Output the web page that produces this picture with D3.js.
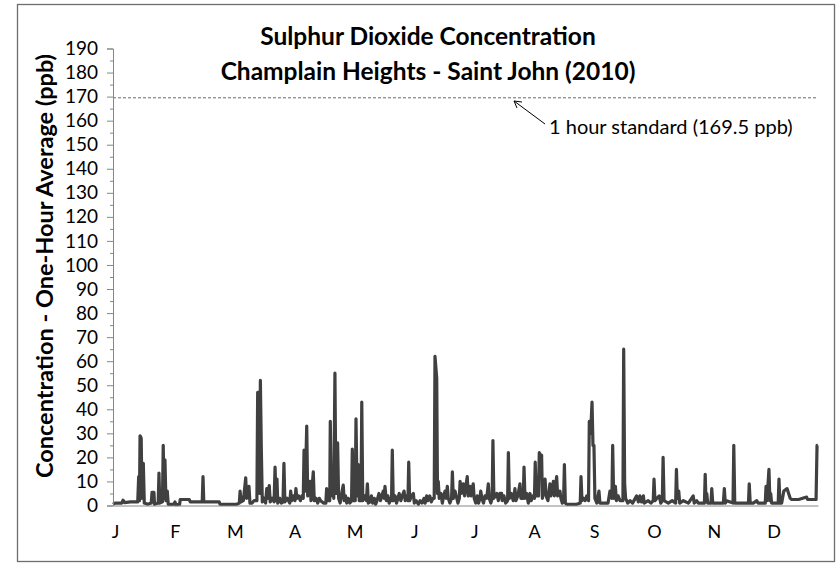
<!DOCTYPE html>
<html>
<head>
<meta charset="utf-8">
<script src="https://cdn.jsdelivr.net/npm/d3@7"></script>
<style>
  html, body { margin: 0; padding: 0; background: #ffffff; }
  svg { display: block; }
  text { font-family: Lato, "Open Sans", sans-serif; fill: #000; }
</style>
</head>
<body>
<svg id="chart" width="838" height="565"></svg>
<script>
// ---- Data ----
const titleLines = ["Sulphur Dioxide Concentration", "Champlain Heights - Saint John (2010)"];
const yAxisTitle = "Concentration - One-Hour Average (ppb)";
const monthLabels = ["J","F","M","A","M","J","J","A","S","O","N","D"];
const monthLabelDays = [0,31,62,93,124,155,186,217,248,279,310,341];
const yTickValues = [0,10,20,30,40,50,60,70,80,90,100,110,120,130,140,150,160,170,180,190];
const yMinorTickValues = [5,15,25,35,45,55,65,75,85,95,105,115,125,135,145,155,165,175,185];
const standardValue = 169.5;
const standardLabel = "1 hour standard (169.5 ppb)";

// [day of year, SO2 one-hour concentration (ppb)]
const readings = [
  [0,0.5],[1,1],[4.5,1],[5.2,2.2],[6,1.2],[9,1.5],[12.8,1.5],[13.3,12],[13.7,2],[14.0,29],[14.6,28],[15.0,3],[15.7,17.5],[16.2,1],[18,0.5],
  [19.8,1],[20.2,5.5],[21.2,5.5],[21.5,0.5],[23.4,1],[23.8,13.5],[24.2,1],[25.6,1.5],[26.0,25],[26.5,3],[26.9,19],[27.4,2],[28.1,6],[28.6,0.5],
  [31.5,0.5],[32.1,1.5],[32.6,0.3],[34.5,0.5],[34.8,2.5],[39.5,2.5],[40,1.5],[46.2,1.5],[46.6,12],[47,1.5],[55,1.5],[55.4,0.5],[64,0.5],
  [65.4,1],[65.8,6],[66.3,1.5],[67.5,2],[68.7,11.5],[69.2,3],[70.4,8],[70.9,1],[72,1],[73,2],[74.5,2],[74.9,47],[75.6,47],[76.0,5],[76.3,52],[76.8,23],[77.3,1.5],
  [78.2,3],[79,1],[79.6,7],[80.1,3],[80.9,8.3],[81.4,1.5],[82.5,3],[83.4,1.5],[83.9,16],[84.4,2],[84.9,11],[85.3,1],[86.3,3],[87.2,1],[88.0,1.5],[88.5,17.5],[89,1.5],[90.2,3],[91.5,1],[92,6],[92.5,2],
  [93.4,4],[94.2,2],[94.7,7],[95.2,3],[96.1,4],[97,2],[97.8,4],[98.5,3],[98.9,23],[99.5,6],[100.3,33],[100.8,4],[102,10],[102.5,2],[103.7,14],[104.2,2],[105.1,3],[106,1],[106.8,3],[107.5,2],[109,1],
  [110.2,1],[110.6,7],[111,2],[112.2,2],[112.5,35],[113,4],[113.7,14],[114.3,3],[114.9,55],[115.4,5],[116.3,26],[116.8,3],[117.6,1],[118.4,5],[119.2,8.5],[119.7,2],
  [120.4,4],[121,1],[121.8,3],[122.6,1],[123.5,2],[123.9,23.5],[124.4,2],[125.4,2],[125.8,36],[126.4,4],[127,17],[127.5,2],[128.4,2],[128.8,43],[129.3,2],[130.2,4],[131.2,2],[131.7,9],[132.2,1],
  [133,1.5],[133.8,4],[134.4,1],[135.3,3],[136,0.5],[136.7,2],[137.7,5],[138.5,2],[139.2,4],[139.9,6],[140.4,3],[140.8,8],[141.5,2],[142.3,4],[143,1],[143.6,3],[144.2,2],[144.6,23],[145.1,2],
  [146,4],[146.8,1],[147.5,3],[148.2,5],[149,2],[149.8,4],[150.7,6],[151.3,2],[152,4],[152.7,2],[153.1,18],[153.6,2],[154.5,4],[155.5,5],[156,1],[157,2],[158.1,0.5],[159,2],[160,1],
  [161,3],[161.6,1],[162.4,4],[163,2],[164,4],[164.8,1.5],[165.6,3],[166.3,3],[166.7,62],[167.6,53],[168.0,5],[168.4,10],[168.9,3],[169.8,5],[170.5,1],[171.2,4],
  [171.9,6],[172.5,3],[173.1,8],[173.6,3],[174.4,1],[175.3,3],[175.7,14],[176.2,3],[177.1,6],[178,3],[178.6,1],[179.3,3],[179.7,10],[180.3,5],[181.4,9],[182,4],[183.4,12],
  [183.9,4],[184.8,8],[185.3,4],[186.5,9],[187,3],[187.8,1],[188.6,4],[189.3,1],[190,3],[190.4,6],[191,3],[191.8,1],[192.6,4],[193.5,3],[194.3,9],[194.8,3],[195.6,1],[196.3,3],[196.7,27],[197.2,3],
  [198.7,5],[199.5,2],[200.3,5],[201.2,5],[201.5,2],[202.4,4],[203.3,1],[204.3,2],[204.7,22],[205.2,3],[206.2,5],[207.2,2],[208.1,7],[208.6,2],[209.6,4],[210.7,9],[211.2,3],[212.4,3],[212.8,16],[213.3,3],
  [214.2,5],[215,1],[215.9,5],[216.5,2],[217.4,4],[218.2,3],[218.6,18],[219.1,4],[220.3,4],[220.7,22],[221.3,21],[221.9,21],[222.3,3],[223.7,11],[224.2,4],[225.2,2],[226.2,9],[226.7,4],[228,10],[228.5,4],
  [229.7,12],[230.2,4],[231.4,6],[231.9,3],[232.6,1],[233.3,3],[233.7,17],[234.2,1],[234.9,0.5],[240.1,0.5],[241.9,1],[242.3,12],[242.8,2],[243.6,3],[244.4,2],[245.3,4],[246.2,2],
  [246.6,35],[247.3,30],[248,43],[248.5,25],[249.0,25],[249.5,3],[250.5,1],[251.6,6],[252.1,1],[253.7,1],[256.3,1],[257.3,6],[258.3,3],[258.7,25],[259.2,3],
  [260.1,8],[260.6,2],[261.5,4],[262.5,2],[264,2],[264.4,65],[264.9,9],[265.4,3],[266.5,1],[267.7,2],[269,1],[271.1,4],[272,1.5],[272.8,4],[273.6,1.5],[274.6,4],[275,1],[277.1,2],[278.5,1],[279.7,2],[280.1,11],
  [280.6,2],[281.6,3],[282.8,4],[283.6,1],[284.4,2],[284.8,20],[285.3,2],[287.5,1],[289.5,2],[291.3,1],[291.7,15],[292.2,3],[292.9,6],[293.4,1],[295.3,2],[297.9,1],[300.4,4],
  [300.9,1],[302.2,2],[303,1],[306.2,1],[306.6,13],[307.0,2],[307.4,5],[307.9,1],[309.6,1],[310,7],[310.5,1],[312.6,1],[316,1],[316.5,7],[317,1],
  [317.7,2],[321,1],[321.4,25],[321.9,1],[322.9,1],[328.1,1],[329,1],[329.4,9],[329.9,1],[331.5,1],[333.3,2],[334,1],[337.7,1],[338.1,8],[338.6,2],
  [339.6,15],[340.1,2],[340.5,5],[341,1],[343.6,1],[344.4,1],[344.8,11],[345.3,1],[346.2,1],[347.3,6],[349,7],[350.6,3],[351.4,2.5],[355,2.5],
  [359.1,3.5],[359.6,2.5],[364,2.5],[364.5,25],[364.9,25]
];

// ---- Drawing ----
const svg = d3.select("#chart");
const x = d3.scaleLinear().domain([0, 365]).range([113, 818]);
const y = d3.scaleLinear().domain([0, 190]).range([505.5, 48.5]);

// chart-area border
svg.append("rect")
  .attr("x", 17.5).attr("y", 4.5).attr("width", 817).attr("height", 557)
  .attr("fill", "#fff").attr("stroke", "#6e6e6e").attr("stroke-width", 1.3);

// title
const title = svg.append("text").attr("text-anchor", "middle")
  .style("font-weight", "bold").style("font-size", "24.5px");
title.selectAll("tspan").data(titleLines).join("tspan")
  .attr("x", 428).attr("y", (d, i) => 45 + i * 35).text(d => d);

// y axis title
svg.append("text")
  .attr("transform", "translate(53,266) rotate(-90)")
  .attr("text-anchor", "middle")
  .style("font-weight", "bold").style("font-size", "23.5px")
  .text(yAxisTitle);

// standard line
svg.append("line")
  .attr("x1", x(0)).attr("x2", x(365))
  .attr("y1", y(standardValue)).attr("y2", y(standardValue))
  .attr("stroke", "#6a6a6a").attr("stroke-width", 1).attr("stroke-dasharray", "3,2");

// data line
const line = d3.line().x(d => x(d[0])).y(d => y(d[1]));
svg.append("path").datum(readings)
  .attr("d", line).attr("fill", "none")
  .attr("stroke", "#404040").attr("stroke-width", 3.2).attr("stroke-linejoin", "round");

// y axis (major)
const yAxis = svg.append("g").attr("transform", "translate(113,0)")
  .call(d3.axisLeft(y).tickValues(yTickValues).tickSize(6).tickPadding(9).tickFormat(d3.format("d")));
yAxis.select(".domain").attr("stroke", "#868686");
yAxis.selectAll(".tick line").attr("stroke", "#868686");
yAxis.selectAll(".tick text").style("font-size", "19px").attr("fill", "#000")
  .style("font-family", "Lato, sans-serif");
// y axis (minor)
const yMinor = svg.append("g").attr("transform", "translate(113,0)")
  .call(d3.axisLeft(y).tickValues(yMinorTickValues).tickSize(3).tickFormat(""));
yMinor.select(".domain").remove();
yMinor.selectAll(".tick line").attr("stroke", "#868686");

// x axis
const xAxis = svg.append("g").attr("transform", `translate(0,${y(0)})`)
  .call(d3.axisBottom(x).tickValues(monthLabelDays).tickSize(0).tickPadding(20)
    .tickFormat((d, i) => monthLabels[i]));
xAxis.select(".domain").attr("stroke", "#868686");
xAxis.selectAll(".tick text").style("font-size", "18px").attr("fill", "#000")
  .style("font-family", "Lato, sans-serif").attr("dx", 2);

// annotation
svg.append("text").attr("x", 549).attr("y", 134)
  .style("font-size", "20px").text(standardLabel);
svg.append("line").attr("x1", 545).attr("y1", 124).attr("x2", 514).attr("y2", 101)
  .attr("stroke", "#000").attr("stroke-width", 1);
svg.append("path").attr("d", "M522,102 L514,101 L517,108")
  .attr("fill", "none").attr("stroke", "#000").attr("stroke-width", 1);
</script>
</body>
</html>
